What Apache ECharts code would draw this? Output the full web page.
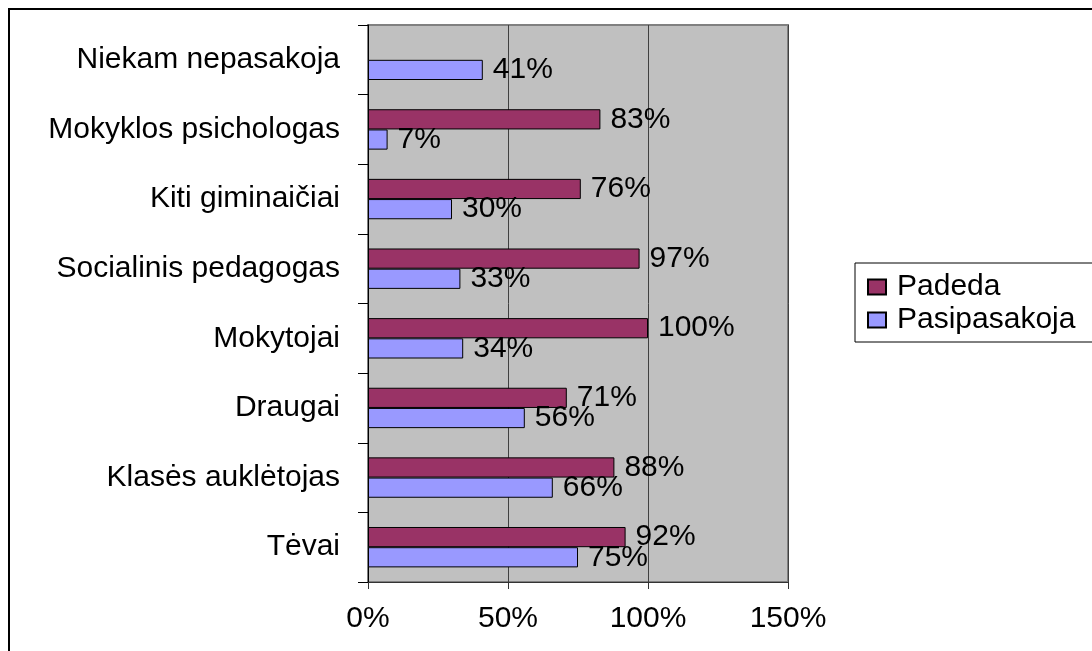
<!DOCTYPE html>
<html>
<head>
<meta charset="utf-8">
<script src="https://cdn.jsdelivr.net/npm/echarts@6/dist/echarts.min.js"></script>
<style>html,body{margin:0;padding:0;background:#fff}#c{width:1092px;height:651px}</style>
</head>
<body>
<div id="c"></div>
<script>
var categories = ['Tėvai', 'Klasės auklėtojas', 'Draugai', 'Mokytojai', 'Socialinis pedagogas', 'Kiti giminaičiai', 'Mokyklos psichologas', 'Niekam nepasakoja'];
var padeda = [92, 88, 71, 100, 97, 76, 83, null];
var pasipasakoja = [75, 66, 56, 34, 33, 30, 7, 41];
var xTicks = [0, 50, 100, 150];

var FONT = 'Liberation Sans';
var FS = 30;
var chart = echarts.init(document.getElementById('c'), null, {renderer: 'canvas'});
var lbl = {show: true, position: 'right', distance: 10, color: '#000', fontFamily: FONT, fontSize: FS, formatter: function (p) { return p.value + '%'; }};
chart.setOption({
  animation: false,
  backgroundColor: '#fff',
  textStyle: {fontFamily: FONT},
  graphic: [{type: 'rect', z: -10, shape: {x: 9, y: 9, width: 1300, height: 1300}, style: {fill: 'none', stroke: '#000', lineWidth: 2}}],
  grid: {left: 368, top: 25, right: 304, bottom: 69, show: true, backgroundColor: '#c0c0c0', borderColor: '#808080', borderWidth: 2},
  legend: {
    orient: 'vertical', left: 855, top: 263,
    data: ['Padeda', 'Pasipasakoja'],
    itemWidth: 18, itemHeight: 15, itemGap: 3, icon: 'rect',
    padding: [9, 40, 7, 12],
    borderColor: '#000', borderWidth: 1, backgroundColor: '#fff',
    textStyle: {fontFamily: FONT, fontSize: FS, color: '#000', padding: [0, 0, 0, 6]}
  },
  xAxis: {
    type: 'value', min: xTicks[0], max: xTicks[xTicks.length - 1], interval: 50,
    axisLine: {show: true, lineStyle: {color: '#333', width: 1}},
    axisTick: {show: true, length: 7, lineStyle: {color: '#333'}},
    axisLabel: {margin: 22, color: '#000', fontFamily: FONT, fontSize: FS, formatter: function (v) { return v + '%'; }},
    splitLine: {show: true, lineStyle: {color: '#404040', width: 1}}
  },
  yAxis: {
    type: 'category', data: categories,
    axisLine: {show: true, lineStyle: {color: '#000', width: 1}},
    axisTick: {show: true, length: 10, inside: false, lineStyle: {color: '#000'}},
    axisLabel: {margin: 28, color: '#000', fontFamily: FONT, fontSize: FS},
    splitLine: {show: false}
  },
  series: [
    {name: 'Padeda', type: 'bar', data: padeda, barGap: '0%', barCategoryGap: '42%',
     itemStyle: {color: '#993366', borderColor: '#000', borderWidth: 1}, label: lbl},
    {name: 'Pasipasakoja', type: 'bar', data: pasipasakoja, barGap: '0%', barCategoryGap: '42%',
     itemStyle: {color: '#9999ff', borderColor: '#000', borderWidth: 1}, label: lbl}
  ]
});
</script>
</body>
</html>
